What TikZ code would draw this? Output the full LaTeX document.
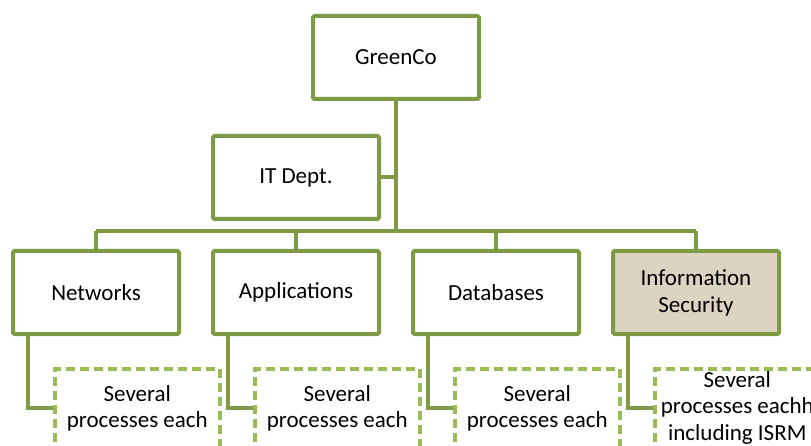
\documentclass[tikz,border=0pt]{standalone}
\usepackage{fontspec}
\setmainfont{Carlito}
\usetikzlibrary{positioning,calc,patterns}
\definecolor{olive}{HTML}{7E9A45}
\definecolor{lightolive}{HTML}{9BBB59}
\definecolor{burlap}{HTML}{DCD3C0}
\tikzset{
  orgbox/.style={draw=olive, line width=4pt, rounded corners=1.5pt, fill=white,
    minimum width=166pt, minimum height=83pt, anchor=north west,
    align=center, font=\fontsize{23}{27}\selectfont, inner sep=0pt},
  procbox/.style={draw=lightolive, line width=3.6pt, dash pattern=on 9pt off 5pt,
    minimum width=165pt, minimum height=110pt, anchor=north west, inner sep=0pt},
  proctext/.style={align=center, font=\fontsize{23}{26.5}\selectfont,
    anchor=north, inner sep=0pt},
  link/.style={draw=olive, line width=4pt}
}
\begin{document}
\begin{tikzpicture}[x=1pt,y=-1pt]
  \useasboundingbox (0,0) rectangle (811,446);
  \clip (0,0) rectangle (811,446);

  % top levels
  \node[orgbox] (green) at (311,14) {GreenCo};
  \node[orgbox] (it) at (211,134) {IT Dept.};

  % departments
  \node[orgbox] (net) at (11,249) {Networks};
  \node[orgbox] (app) at (211,249) {Applications};
  \node[orgbox] (db)  at (411,249) {Databases};
  \node[orgbox, fill=burlap] (sec) at (611,249) {Information\\Security};

  % process boxes below each department
  \node[procbox] (netp) at (53,367) {};
  \node[procbox] (appp) at (253,367) {};
  \node[procbox] (dbp)  at (453,367) {};
  \node[procbox] (secp) at (653,367) {};
  \node[proctext] (netpt) at ($(netp.north)+(0,18)$) {Several\\processes each};
  \node[proctext] (apppt) at ($(appp.north)+(0,18)$) {Several\\processes each};
  \node[proctext] (dbpt)  at ($(dbp.north)+(0,18)$)  {Several\\processes each};
  \node[proctext] (secpt) at ($(secp.north)+(0,4)$)  {Several\\processes eachh\\including ISRM};

  % trunk and branches
  \coordinate (bar) at (green.south |- 0,231);
  \draw[link] (green.south) -- (bar);
  \draw[link] (it.east) -- (it.east -| green.south);
  \draw[link] (net.north |- bar) -- (sec.north |- bar);
  \foreach \d in {net,app,db,sec}
    \draw[link] (\d.north |- bar) -- (\d.north);

  % elbows to process boxes
  \foreach \d/\p in {net/netp,app/appp,db/dbp,sec/secp}
    \draw[link] ($(\d.south west)+(17,0)$) |- ($(\p.north west)+(0,41)$);
\end{tikzpicture}
\end{document}
